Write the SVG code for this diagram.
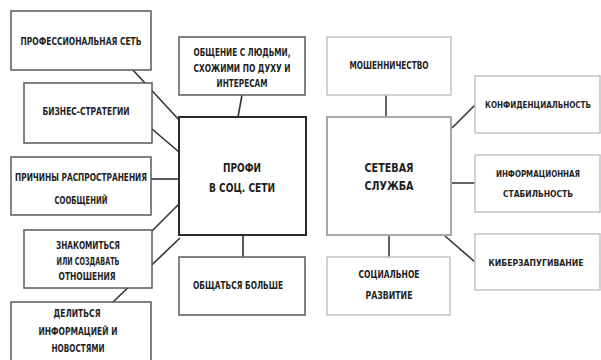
<svg xmlns="http://www.w3.org/2000/svg" width="601" height="360" viewBox="0 0 601 360">
<style>
.bg{fill:#ffffff}
.bl{fill:#fff;stroke:#5a5a5a;stroke-width:1.5}
.bc{fill:#fff;stroke:#2a2a2a;stroke-width:2}
.br{fill:#fff;stroke:#c4c4c4;stroke-width:1.5}
.bs{fill:#fff;stroke:#a8a8a8;stroke-width:2}
.t{font-family:"DejaVu Sans Condensed","DejaVu Sans",sans-serif;font-weight:bold;font-size:10.5px;fill:#1e1e1e;text-anchor:middle}
.tb{font-size:12.5px}
.tm{font-size:9.5px}
.ts{font-size:8.5px}
.c{stroke:#333;stroke-width:1.6;fill:none}
.cg{stroke:#666;stroke-width:2;fill:none}
</style>
<rect class="bg" x="0" y="0" width="601" height="360"/>
<g id="connectors">
<line class="c" x1="132" y1="69" x2="180" y2="121"/>
<line class="c" x1="152" y1="129" x2="179" y2="152"/>
<line class="c" x1="151" y1="179" x2="179" y2="179"/>
<line class="c" x1="152" y1="231" x2="179" y2="204"/>
<line class="c" x1="113" y1="302" x2="180" y2="238"/>
<line class="c" x1="242" y1="95" x2="238" y2="117"/>
<line class="c" x1="243" y1="235" x2="243" y2="257"/>
<line class="cg" x1="386" y1="95" x2="386" y2="117"/>
<line class="cg" x1="389" y1="235" x2="389" y2="257"/>
<line class="c" x1="452" y1="128" x2="475" y2="105"/>
<line class="cg" x1="451" y1="183" x2="475" y2="183"/>
<line class="c" x1="445" y1="236" x2="475" y2="262"/>
</g>
<g id="n-prof-set"><rect class="bl" x="11" y="11" width="140" height="59"/><text class="t" x="81" y="44.8" textLength="121" lengthAdjust="spacingAndGlyphs">ПРОФЕССИОНАЛЬНАЯ СЕТЬ</text></g>
<g id="n-biznes"><rect class="bl" x="24" y="83" width="128" height="60"/><text class="t" x="86" y="114.8" textLength="87" lengthAdjust="spacingAndGlyphs">БИЗНЕС-СТРАТЕГИИ</text></g>
<g id="n-prichiny"><rect class="bl" x="11" y="157" width="140" height="58"/><text class="t" x="81" y="180.8" textLength="132" lengthAdjust="spacingAndGlyphs">ПРИЧИНЫ РАСПРОСТРАНЕНИЯ</text><text class="t" x="81" y="203.8" textLength="53" lengthAdjust="spacingAndGlyphs">СООБЩЕНИЙ</text></g>
<g id="n-znakom"><rect class="bl" x="24" y="230" width="128" height="58"/><text class="t" x="88" y="249" textLength="64" lengthAdjust="spacingAndGlyphs">ЗНАКОМИТЬСЯ</text><text class="t" x="88" y="265" textLength="63" lengthAdjust="spacingAndGlyphs">ИЛИ СОЗДАВАТЬ</text><text class="t" x="87" y="280" textLength="57" lengthAdjust="spacingAndGlyphs">ОТНОШЕНИЯ</text></g>
<g id="n-delit"><rect class="bl" x="11" y="302" width="140" height="62"/><text class="t" x="77" y="316.8" textLength="47" lengthAdjust="spacingAndGlyphs">ДЕЛИТЬСЯ</text><text class="t" x="78" y="334.8" textLength="79" lengthAdjust="spacingAndGlyphs">ИНФОРМАЦИЕЙ И</text><text class="t" x="78" y="351.8" textLength="53" lengthAdjust="spacingAndGlyphs">НОВОСТЯМИ</text></g>
<g id="n-obshenie"><rect class="bl" x="179" y="37" width="126" height="58"/><text class="t" x="242" y="55.8" textLength="97" lengthAdjust="spacingAndGlyphs">ОБЩЕНИЕ С ЛЮДЬМИ,</text><text class="t" x="242" y="71.8" textLength="97" lengthAdjust="spacingAndGlyphs">СХОЖИМИ ПО ДУХУ И</text><text class="t" x="242" y="86.8" textLength="51" lengthAdjust="spacingAndGlyphs">ИНТЕРЕСАМ</text></g>
<g id="n-profi"><rect class="bc" x="179" y="117" width="127" height="118"/><text class="t tb" x="242" y="171.5" textLength="38" lengthAdjust="spacingAndGlyphs">ПРОФИ</text><text class="t tb" x="242" y="191.5" textLength="66" lengthAdjust="spacingAndGlyphs">В СОЦ. СЕТИ</text></g>
<g id="n-obshatsya"><rect class="bl" x="179" y="257" width="126" height="58"/><text class="t" x="238" y="288.8" textLength="90" lengthAdjust="spacingAndGlyphs">ОБЩАТЬСЯ БОЛЬШЕ</text></g>
<g id="n-moshen"><rect class="br" x="327" y="37" width="124" height="58"/><text class="t" x="389" y="68.8" textLength="79" lengthAdjust="spacingAndGlyphs">МОШЕННИЧЕСТВО</text></g>
<g id="n-setevaya"><rect class="bs" x="327" y="117" width="124" height="118"/><text class="t tb" x="389" y="171.5" textLength="49" lengthAdjust="spacingAndGlyphs">СЕТЕВАЯ</text><text class="t tb" x="389" y="189.5" textLength="49" lengthAdjust="spacingAndGlyphs">СЛУЖБА</text></g>
<g id="n-social"><rect class="br" x="327" y="257" width="123" height="58"/><text class="t" x="389" y="277.8" textLength="61" lengthAdjust="spacingAndGlyphs">СОЦИАЛЬНОЕ</text><text class="t" x="389" y="298.8" textLength="47" lengthAdjust="spacingAndGlyphs">РАЗВИТИЕ</text></g>
<g id="n-konf"><rect class="br" x="475" y="76" width="125" height="57"/><text class="t ts" x="538" y="108" textLength="106" lengthAdjust="spacingAndGlyphs">КОНФИДЕНЦИАЛЬНОСТЬ</text></g>
<g id="n-inform"><rect class="br" x="475" y="155" width="125" height="57"/><text class="t tm" x="538" y="176.5" textLength="84" lengthAdjust="spacingAndGlyphs">ИНФОРМАЦИОННАЯ</text><text class="t tm" x="538" y="196.5" textLength="70" lengthAdjust="spacingAndGlyphs">СТАБИЛЬНОСТЬ</text></g>
<g id="n-kiber"><rect class="br" x="475" y="234" width="125" height="56"/><text class="t tm" x="536" y="265.5" textLength="95" lengthAdjust="spacingAndGlyphs">КИБЕРЗАПУГИВАНИЕ</text></g>
</svg>
